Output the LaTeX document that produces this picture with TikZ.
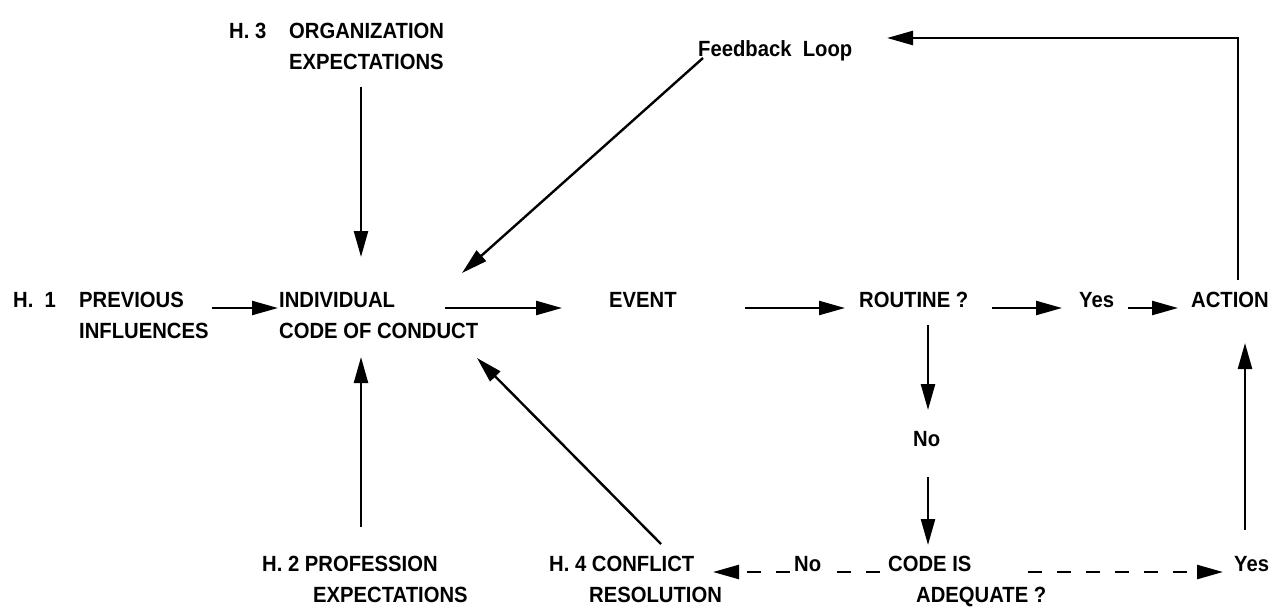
\documentclass[tikz,border=0pt]{standalone}
\usepackage{fontspec}
\setmainfont{Liberation Sans}[FakeStretch=0.92]
\usetikzlibrary{arrows.meta}
\tikzset{
  lbl/.style={anchor=base west,inner sep=0pt,font=\fontsize{22}{26}\selectfont\bfseries},
  dashline/.style={dash pattern=on 14pt off 15pt}
}
\begin{document}
\begin{tikzpicture}[x=1pt,y=-1pt,>={Triangle[length=26pt,width=14pt]},line width=2.4pt]
	\useasboundingbox (0,0) rectangle (1283,613);
	% labels
	\node[lbl] (h3) at (228,38) {H. 3};
	\node[lbl] (org) at (288,38) {ORGANIZATION};
	\node[lbl] (orgexp) at (288,69) {EXPECTATIONS};
	\node[lbl] (fb) at (697,56) {Feedback~~Loop};
	\node[lbl] (h1) at (12,307) {H.~~1};
	\node[lbl] (prev) at (78,307) {PREVIOUS};
	\node[lbl] (infl) at (78,338) {INFLUENCES};
	\node[lbl] (indiv) at (278,307) {INDIVIDUAL};
	\node[lbl] (code) at (278,338) {CODE OF CONDUCT};
	\node[lbl] (event) at (608,307) {EVENT};
	\node[lbl] (routine) at (858,307) {ROUTINE ?};
	\node[lbl] (yesa) at (1078,307) {Yes};
	\node[lbl] (action) at (1190,307) {ACTION};
	\node[lbl] (noa) at (912,446) {No};
	\node[lbl] (h2) at (261,571) {H. 2 PROFESSION};
	\node[lbl] (profexp) at (312,602) {EXPECTATIONS};
	\node[lbl] (h4) at (548,571) {H. 4 CONFLICT};
	\node[lbl] (resol) at (588,602) {RESOLUTION};
	\node[lbl] (nob) at (793,571) {No};
	\node[lbl] (codeis) at (887,571) {CODE IS};
	\node[lbl] (adeq) at (915,602) {ADEQUATE ?};
	\node[lbl] (yesb) at (1233,571) {Yes};
	% arrow ends
	\coordinate (orgS) at (361,87);
	\coordinate (indN) at (361,257);
	\coordinate (fbS) at (703,58);
	\coordinate (indNE) at (462,273);
	\coordinate (actN) at (1238,280);
	\coordinate (corner) at (1238,38);
	\coordinate (fbE) at (887,38);
	\coordinate (prevE) at (212,308);
	\coordinate (indW) at (278,308);
	\coordinate (indE) at (445,308);
	\coordinate (evW) at (562,308);
	\coordinate (evE) at (745,308);
	\coordinate (rouW) at (845,308);
	\coordinate (rouE) at (992,308);
	\coordinate (yesW) at (1062,308);
	\coordinate (yesE) at (1128,308);
	\coordinate (actW) at (1178,308);
	\coordinate (rouS) at (928,325);
	\coordinate (noN) at (928,410);
	\coordinate (noS) at (928,477);
	\coordinate (codeN) at (928,545);
	\coordinate (yesN) at (1245,530);
	\coordinate (actS) at (1245,343);
	\coordinate (profN) at (361,527);
	\coordinate (indS) at (361,357);
	\coordinate (h4N) at (661,544);
	\coordinate (indSE) at (477,358);
	\coordinate (codeW) at (880,572);
	\coordinate (nobE) at (830,572);
	\coordinate (nobW) at (790,572);
	\coordinate (h4E) at (713,572);
	\coordinate (adeqE) at (1028,572);
	\coordinate (yesbW) at (1223,572);
	% connectors
	\draw[->] (orgS)--(indN);
	\draw[->] (fbS)--(indNE);
	\draw[->] (actN)--(corner)--(fbE);
	\draw[->] (prevE)--(indW);
	\draw[->] (indE)--(evW);
	\draw[->] (evE)--(rouW);
	\draw[->] (rouE)--(yesW);
	\draw[->] (yesE)--(actW);
	\draw[->] (rouS)--(noN);
	\draw[->] (noS)--(codeN);
	\draw[->] (yesN)--(actS);
	\draw[->] (profN)--(indS);
	\draw[->] (h4N)--(indSE);
	\draw[dashline] (codeW)--(nobE);
	\draw[dashline,->] (nobW)--(h4E);
	\draw[dashline,->] (adeqE)--(yesbW);
\end{tikzpicture}
\end{document}
